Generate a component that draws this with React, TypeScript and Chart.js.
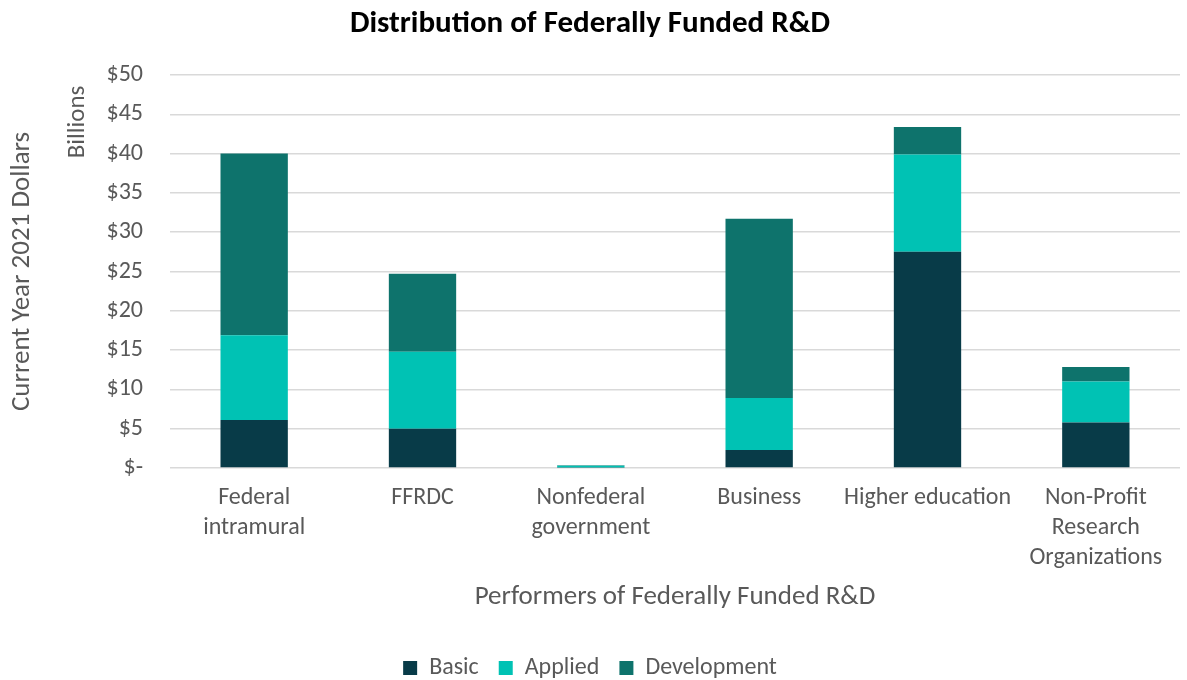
import React, { useEffect, useRef } from "react";
import { Chart, registerables } from "chart.js";

Chart.register(...registerables);

const categories: (string | string[])[] = [
  ["Federal", "intramural"],
  "FFRDC",
  ["Nonfederal", "government"],
  "Business",
  "Higher education",
  ["Non-Profit", "Research", "Organizations"],
];
const basicValues = [6.1, 5.0, 0.05, 2.3, 27.5, 5.8];
const appliedValues = [10.8, 9.8, 0.25, 6.6, 12.4, 5.2];
const developmentValues = [23.1, 9.9, 0.05, 22.8, 3.5, 1.85];
const yTickStep = 5;
const yMax = 50;

const FONT = "Carlito, Lato, 'Open Sans', sans-serif";
const GREY = "#595959";

const billionsPlugin = {
  id: "billionsLabel",
  afterDraw(chart: any) {
    const ctx = chart.ctx;
    ctx.save();
    ctx.font = `25px ${FONT}`;
    ctx.fillStyle = GREY;
    ctx.textAlign = "center";
    ctx.textBaseline = "middle";
    ctx.translate(78, 122);
    ctx.rotate(-Math.PI / 2);
    ctx.fillText("Billions", 0, 0);
    ctx.restore();
  },
};

export default function App() {
  const ref = useRef<HTMLCanvasElement>(null);
  useEffect(() => {
    document.body.style.margin = "0";
    const chart = new Chart(ref.current!, {
      type: "bar",
      data: {
        labels: categories,
        datasets: [
          { label: "Basic", data: basicValues, backgroundColor: "#083B48" },
          { label: "Applied", data: appliedValues, backgroundColor: "#00C2B4" },
          { label: "Development", data: developmentValues, backgroundColor: "#0E736C" },
        ],
      },
      options: {
        animation: false,
        responsive: false,
        datasets: { bar: { categoryPercentage: 1, barPercentage: 0.4 } },
        layout: { padding: { top: 0, right: 7, bottom: -10, left: 0 } },
        plugins: {
          title: {
            display: true,
            text: "Distribution of Federally Funded R&D",
            color: "#000000",
            font: { family: FONT, size: 31, weight: "bold" },
            padding: { top: 5.4, bottom: 32.4 },
          },
          legend: {
            position: "bottom",
            labels: {
              boxWidth: 14,
              boxHeight: 14,
              padding: 20,
              color: GREY,
              font: { family: FONT, size: 24 },
            },
          },
          tooltip: { enabled: false },
        },
        scales: {
          x: {
            stacked: true,
            grid: { display: false, drawTicks: false },
            border: { display: false },
            ticks: {
              color: GREY,
              font: { family: FONT, size: 24, lineHeight: 1.25 },
              padding: 15,
              maxRotation: 0,
              autoSkip: false,
            },
            title: {
              display: true,
              text: "Performers of Federally Funded R&D",
              color: GREY,
              font: { family: FONT, size: 27 },
              padding: { top: 0, bottom: 23 },
            },
            afterFit: (scale: any) => {
              scale.height = 168;
            },
          },
          y: {
            stacked: true,
            min: 0,
            max: yMax,
            grid: { color: "#D9D9D9", lineWidth: 1.5, drawTicks: false },
            border: { display: false },
            ticks: {
              stepSize: yTickStep,
              color: GREY,
              font: { family: FONT, size: 24 },
              padding: 27,
              callback: (v: any) => (Number(v) === 0 ? "$-" : "$" + v),
            },
            title: {
              display: true,
              text: "Current Year 2021 Dollars",
              color: GREY,
              font: { family: FONT, size: 27 },
              padding: { top: 5.8, bottom: 0 },
            },
            afterFit: (scale: any) => {
              scale.width = 170;
            },
          },
        },
      },
      plugins: [billionsPlugin],
    } as any);
    return () => chart.destroy();
  }, []);
  return <canvas ref={ref} width={1187} height={680} />;
}
